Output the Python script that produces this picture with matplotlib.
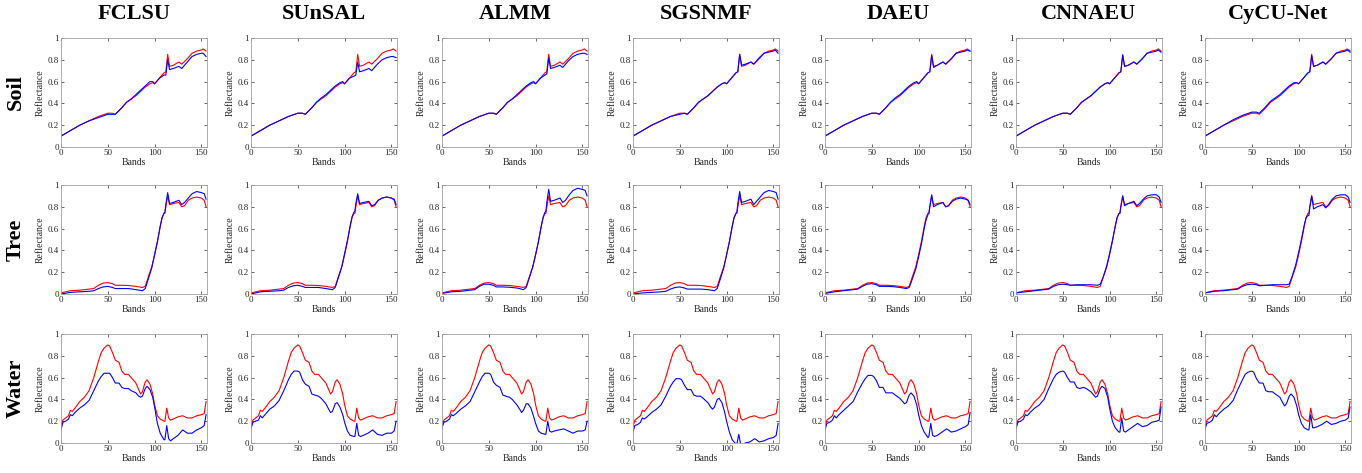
import numpy as np
import matplotlib
matplotlib.use('Agg')
import matplotlib.pyplot as plt

plt.rcParams['font.family'] = ['Liberation Serif', 'DejaVu Serif']

methods = ['FCLSU', 'SUnSAL', 'ALMM', 'SGSNMF', 'DAEU', 'CNNAEU', 'CyCU-Net']
materials = ['Soil', 'Tree', 'Water']

# Soil
# -------------------------------------------------------------
soil_bands = [0, 10, 20, 30, 40, 50, 55, 58, 65, 70, 75, 80, 90, 95, 98,
              100, 105, 110, 112, 114, 116, 120, 126, 129, 135, 140, 145, 150, 152, 155]
soil_ref = [0.10, 0.15, 0.20, 0.24, 0.28, 0.31, 0.31, 0.30, 0.36, 0.41, 0.44, 0.47, 0.55, 0.58, 0.59,
            0.58, 0.63, 0.68, 0.69, 0.85, 0.74, 0.75, 0.78, 0.76, 0.81, 0.86, 0.88, 0.89, 0.90, 0.88]
soil_fclsu = [0.10, 0.15, 0.20, 0.24, 0.27, 0.30, 0.30, 0.30, 0.36, 0.41, 0.44, 0.48, 0.56, 0.60, 0.60,
              0.58, 0.63, 0.66, 0.66, 0.80, 0.71, 0.72, 0.74, 0.72, 0.78, 0.83, 0.85, 0.86, 0.86, 0.83]
soil_sunsal = [0.10, 0.15, 0.20, 0.24, 0.28, 0.31, 0.31, 0.30, 0.36, 0.41, 0.45, 0.48, 0.56, 0.59, 0.60,
               0.58, 0.63, 0.65, 0.66, 0.78, 0.69, 0.70, 0.72, 0.70, 0.76, 0.80, 0.82, 0.83, 0.83, 0.82]
soil_almm = [0.10, 0.15, 0.20, 0.24, 0.28, 0.31, 0.31, 0.30, 0.36, 0.41, 0.44, 0.48, 0.56, 0.59, 0.60,
             0.58, 0.63, 0.66, 0.67, 0.82, 0.72, 0.73, 0.75, 0.73, 0.79, 0.83, 0.85, 0.86, 0.86, 0.85]
soil_sgsnmf = [0.10, 0.15, 0.20, 0.24, 0.28, 0.30, 0.31, 0.30, 0.36, 0.41, 0.44, 0.47, 0.55, 0.58, 0.59,
               0.58, 0.63, 0.68, 0.69, 0.85, 0.75, 0.76, 0.78, 0.76, 0.82, 0.86, 0.87, 0.88, 0.89, 0.86]
soil_daeu = [0.10, 0.15, 0.20, 0.24, 0.28, 0.31, 0.31, 0.30, 0.36, 0.41, 0.45, 0.48, 0.56, 0.59, 0.60,
             0.58, 0.63, 0.68, 0.69, 0.84, 0.73, 0.75, 0.78, 0.76, 0.81, 0.86, 0.87, 0.88, 0.89, 0.88]
soil_cnnaeu = [0.10, 0.15, 0.20, 0.24, 0.28, 0.31, 0.31, 0.30, 0.36, 0.41, 0.44, 0.47, 0.55, 0.58, 0.59,
               0.58, 0.63, 0.68, 0.69, 0.84, 0.74, 0.75, 0.78, 0.76, 0.81, 0.86, 0.87, 0.88, 0.89, 0.87]
soil_cycunet = [0.10, 0.15, 0.20, 0.25, 0.29, 0.32, 0.32, 0.31, 0.37, 0.42, 0.45, 0.48, 0.56, 0.59, 0.59,
                0.58, 0.63, 0.68, 0.69, 0.84, 0.74, 0.75, 0.78, 0.76, 0.81, 0.86, 0.87, 0.88, 0.89, 0.87]

# Tree
# -------------------------------------------------------------
tree_bands = [0, 10, 20, 30, 35, 40, 45, 50, 55, 58, 65, 72, 80, 87, 90, 93, 97, 100,
              103, 106, 108, 110, 111, 112, 114, 116, 120, 126, 129, 132, 136, 140, 145, 150, 153, 155]
tree_ref = [0.01, 0.03, 0.035, 0.045, 0.05, 0.08, 0.10, 0.105, 0.095, 0.08, 0.08, 0.078, 0.07, 0.06, 0.07, 0.15, 0.25, 0.36,
            0.48, 0.62, 0.70, 0.74, 0.74, 0.80, 0.90, 0.82, 0.83, 0.84, 0.80, 0.81, 0.86, 0.88, 0.89, 0.88, 0.86, 0.80]
tree_fclsu = [0.00, 0.015, 0.02, 0.025, 0.03, 0.05, 0.065, 0.07, 0.06, 0.05, 0.05, 0.05, 0.04, 0.03, 0.05, 0.13, 0.24, 0.36,
              0.48, 0.62, 0.70, 0.74, 0.75, 0.82, 0.93, 0.83, 0.84, 0.86, 0.82, 0.84, 0.88, 0.92, 0.94, 0.93, 0.92, 0.87]
tree_sunsal = [0.00, 0.02, 0.025, 0.03, 0.035, 0.06, 0.075, 0.08, 0.07, 0.06, 0.06, 0.06, 0.05, 0.04, 0.06, 0.14, 0.25, 0.37,
               0.49, 0.63, 0.71, 0.75, 0.76, 0.83, 0.92, 0.83, 0.84, 0.85, 0.81, 0.82, 0.86, 0.88, 0.89, 0.88, 0.87, 0.82]
tree_almm = [0.005, 0.02, 0.025, 0.035, 0.04, 0.07, 0.09, 0.09, 0.08, 0.065, 0.065, 0.062, 0.055, 0.04, 0.06, 0.14, 0.25, 0.36,
             0.48, 0.62, 0.70, 0.75, 0.76, 0.84, 0.96, 0.85, 0.86, 0.88, 0.84, 0.86, 0.91, 0.95, 0.97, 0.96, 0.95, 0.90]
tree_sgsnmf = [0.00, 0.01, 0.015, 0.02, 0.025, 0.045, 0.06, 0.065, 0.055, 0.045, 0.045, 0.045, 0.04, 0.03, 0.05, 0.13, 0.24, 0.36,
               0.48, 0.62, 0.70, 0.74, 0.75, 0.83, 0.94, 0.84, 0.85, 0.87, 0.82, 0.85, 0.89, 0.93, 0.95, 0.94, 0.93, 0.87]
tree_daeu = [0.005, 0.02, 0.03, 0.04, 0.045, 0.07, 0.09, 0.095, 0.085, 0.07, 0.07, 0.068, 0.06, 0.05, 0.06, 0.13, 0.23, 0.34,
             0.46, 0.60, 0.68, 0.73, 0.74, 0.80, 0.91, 0.80, 0.82, 0.84, 0.80, 0.81, 0.85, 0.87, 0.88, 0.87, 0.86, 0.82]
tree_cnnaeu = [0.01, 0.02, 0.03, 0.04, 0.045, 0.07, 0.085, 0.09, 0.085, 0.08, 0.085, 0.085, 0.085, 0.08, 0.09, 0.15, 0.26, 0.37,
               0.49, 0.62, 0.70, 0.74, 0.74, 0.80, 0.90, 0.81, 0.83, 0.85, 0.81, 0.83, 0.87, 0.90, 0.91, 0.91, 0.89, 0.84]
tree_cycunet = [0.01, 0.025, 0.03, 0.04, 0.045, 0.07, 0.085, 0.09, 0.085, 0.075, 0.08, 0.085, 0.085, 0.085, 0.09, 0.16, 0.27, 0.38,
                0.50, 0.63, 0.70, 0.72, 0.72, 0.80, 0.90, 0.78, 0.80, 0.82, 0.79, 0.82, 0.87, 0.90, 0.91, 0.91, 0.89, 0.84]

# Water
# -------------------------------------------------------------
water_bands = [0, 2, 5, 8, 10, 12, 15, 20, 25, 30, 35, 40, 43, 46, 50, 52, 55, 58, 62, 65, 68, 72, 75, 80,
               83, 85, 87, 90, 92, 95, 98, 100, 103, 106, 110, 111, 113, 115, 117, 120, 125, 130, 135, 140, 145, 150, 153, 155]
water_ref = [0.15, 0.21, 0.23, 0.25, 0.30, 0.29, 0.32, 0.38, 0.42, 0.48, 0.60, 0.75, 0.83, 0.87, 0.90, 0.89, 0.83, 0.76, 0.74, 0.66, 0.63, 0.63, 0.60, 0.55,
             0.49, 0.45, 0.47, 0.56, 0.58, 0.54, 0.45, 0.35, 0.25, 0.22, 0.20, 0.20, 0.32, 0.23, 0.21, 0.22, 0.24, 0.25, 0.23, 0.23, 0.25, 0.26, 0.27, 0.38]
water_fclsu = [0.12, 0.19, 0.20, 0.22, 0.26, 0.25, 0.28, 0.32, 0.35, 0.39, 0.48, 0.57, 0.61, 0.64, 0.64, 0.64, 0.60, 0.55, 0.55, 0.51, 0.50, 0.50, 0.48, 0.46,
               0.43, 0.42, 0.43, 0.50, 0.52, 0.49, 0.42, 0.33, 0.18, 0.09, 0.03, 0.03, 0.16, 0.04, 0.02, 0.04, 0.07, 0.12, 0.09, 0.09, 0.12, 0.14, 0.16, 0.26]
water_sunsal = [0.13, 0.19, 0.20, 0.21, 0.25, 0.23, 0.26, 0.31, 0.34, 0.39, 0.48, 0.58, 0.63, 0.66, 0.66, 0.65, 0.58, 0.54, 0.52, 0.45, 0.44, 0.43, 0.41, 0.36,
                0.31, 0.28, 0.29, 0.36, 0.37, 0.33, 0.26, 0.19, 0.11, 0.07, 0.06, 0.06, 0.18, 0.07, 0.06, 0.07, 0.09, 0.12, 0.08, 0.07, 0.09, 0.09, 0.11, 0.20]
water_almm = [0.14, 0.19, 0.20, 0.22, 0.26, 0.25, 0.27, 0.31, 0.34, 0.38, 0.47, 0.56, 0.61, 0.64, 0.64, 0.63, 0.56, 0.53, 0.51, 0.44, 0.43, 0.42, 0.40, 0.35,
              0.31, 0.28, 0.30, 0.36, 0.36, 0.32, 0.24, 0.18, 0.11, 0.09, 0.08, 0.08, 0.20, 0.11, 0.10, 0.11, 0.12, 0.13, 0.11, 0.09, 0.11, 0.11, 0.12, 0.20]
water_sgsnmf = [0.10, 0.16, 0.17, 0.19, 0.23, 0.22, 0.24, 0.28, 0.31, 0.35, 0.43, 0.52, 0.56, 0.59, 0.59, 0.58, 0.53, 0.49, 0.49, 0.44, 0.43, 0.43, 0.41, 0.37,
                0.33, 0.31, 0.33, 0.40, 0.41, 0.37, 0.28, 0.20, 0.10, 0.03, -0.01, -0.01, 0.08, -0.01, -0.01, 0.00, 0.01, 0.04, 0.01, 0.02, 0.04, 0.05, 0.07, 0.18]
water_daeu = [0.12, 0.18, 0.19, 0.21, 0.25, 0.23, 0.26, 0.30, 0.34, 0.38, 0.47, 0.55, 0.59, 0.62, 0.62, 0.61, 0.57, 0.51, 0.51, 0.46, 0.46, 0.46, 0.44, 0.41,
              0.38, 0.36, 0.37, 0.44, 0.46, 0.43, 0.35, 0.26, 0.16, 0.10, 0.05, 0.06, 0.18, 0.07, 0.06, 0.07, 0.10, 0.13, 0.10, 0.11, 0.13, 0.15, 0.17, 0.28]
water_cnnaeu = [0.13, 0.19, 0.20, 0.22, 0.26, 0.25, 0.28, 0.32, 0.35, 0.40, 0.50, 0.59, 0.63, 0.65, 0.66, 0.65, 0.60, 0.56, 0.56, 0.51, 0.50, 0.51, 0.50, 0.47,
                0.44, 0.42, 0.43, 0.50, 0.52, 0.50, 0.42, 0.32, 0.20, 0.14, 0.10, 0.10, 0.23, 0.11, 0.10, 0.12, 0.15, 0.18, 0.15, 0.16, 0.19, 0.20, 0.21, 0.33]
water_cycunet = [0.13, 0.18, 0.19, 0.21, 0.26, 0.24, 0.27, 0.31, 0.34, 0.39, 0.49, 0.58, 0.63, 0.65, 0.66, 0.65, 0.59, 0.55, 0.55, 0.48, 0.47, 0.47, 0.45, 0.42,
                 0.37, 0.34, 0.36, 0.43, 0.45, 0.42, 0.34, 0.26, 0.18, 0.14, 0.12, 0.12, 0.26, 0.14, 0.14, 0.15, 0.17, 0.20, 0.17, 0.18, 0.20, 0.21, 0.23, 0.33]

rows = [
    (soil_bands, soil_ref, [soil_fclsu, soil_sunsal, soil_almm, soil_sgsnmf, soil_daeu, soil_cnnaeu, soil_cycunet]),
    (tree_bands, tree_ref, [tree_fclsu, tree_sunsal, tree_almm, tree_sgsnmf, tree_daeu, tree_cnnaeu, tree_cycunet]),
    (water_bands, water_ref, [water_fclsu, water_sunsal, water_almm, water_sgsnmf, water_daeu, water_cnnaeu, water_cycunet]),
]

# Figure layout (pixels)
# -------------------------------------------------------------
W, H = 1362, 473
fig = plt.figure(figsize=(W / 100, H / 100), dpi=100)

col_left = [61, 251, 442, 633, 825, 1016, 1205]
row_top = [38, 185, 334]
ax_w, ax_h = 146, 109

text_col = '#262626'

for r in range(3):
    bands, ref, ests = rows[r]
    for c in range(7):
        ax = fig.add_axes([col_left[c] / W, 1 - (row_top[r] + ax_h) / H, ax_w / W, ax_h / H])
        ax.plot(bands, ref, color='red', lw=0.8)
        ax.plot(bands, ests[c], color='blue', lw=0.8)
        ax.set_xlim(0, 156)
        ax.set_ylim(0, 1)
        ax.set_xticks([0, 50, 100, 150])
        ax.set_yticks([0, 0.2, 0.4, 0.6, 0.8, 1])
        ax.set_yticklabels(['0', '0.2', '0.4', '0.6', '0.8', '1'])
        ax.tick_params(direction='in', length=2, width=0.5, labelsize=6.5,
                       colors=text_col, pad=1.5, top=True, right=True)
        for s in ax.spines.values():
            s.set_color('#a0a0a0')
            s.set_linewidth(0.6)
        ax.set_xlabel('Bands', fontsize=7, color=text_col, labelpad=1)
        ax.set_ylabel('Reflectance', fontsize=7, color=text_col, labelpad=2)

        if r == 0:
            fig.text((col_left[c] + ax_w / 2) / W, 1 - 14 / H, methods[c],
                     ha='center', va='center', fontsize=16, fontweight='bold')
        if c == 0:
            fig.text(16 / W, 1 - (row_top[r] + ax_h / 2) / H, materials[r],
                     ha='center', va='center', rotation=90, fontsize=16, fontweight='bold')

plt.savefig('out.png', dpi=100)
